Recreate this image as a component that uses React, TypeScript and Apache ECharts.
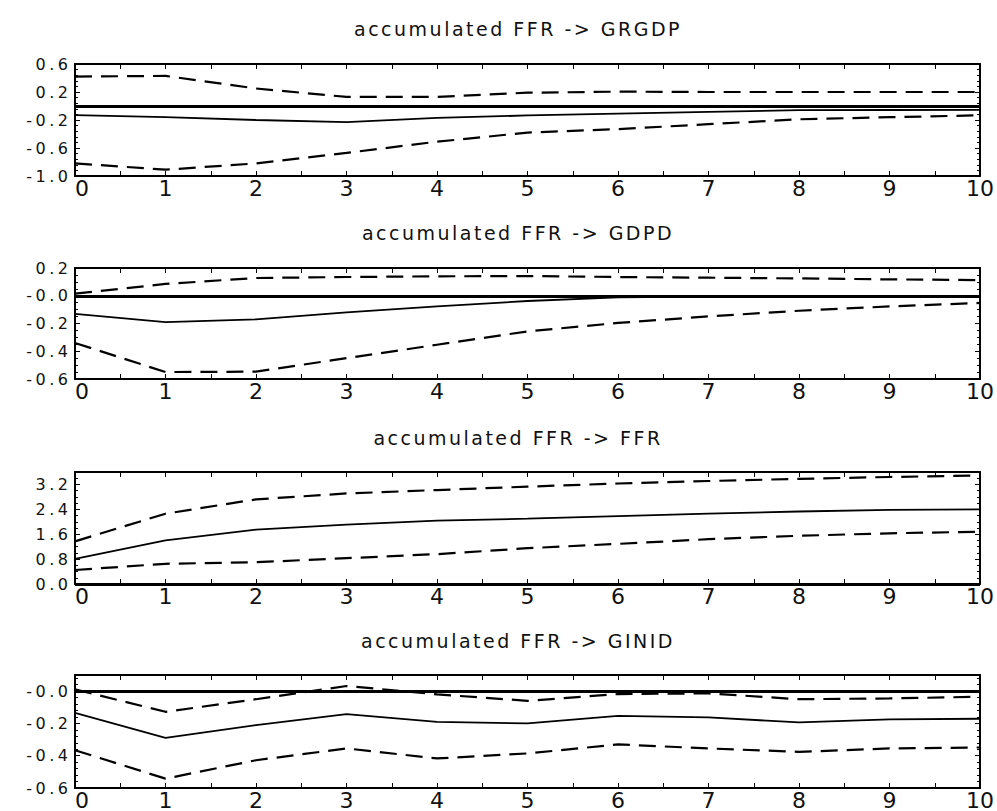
import React, { useEffect, useRef } from "react";
import * as echarts from "echarts";

// Horizons (x axis)
const HORIZONS = [0, 1, 2, 3, 4, 5, 6, 7, 8, 9, 10];

const TITLES = [
  "accumulated FFR -> GRGDP",
  "accumulated FFR -> GDPD",
  "accumulated FFR -> FFR",
  "accumulated FFR -> GINID",
];

// accumulated FFR -> GRGDP
const GRGDP_MID = [-0.13, -0.16, -0.2, -0.23, -0.17, -0.135, -0.11, -0.085, -0.06, -0.057, -0.055];
const GRGDP_UP = [0.42, 0.43, 0.25, 0.13, 0.13, 0.19, 0.205, 0.2, 0.2, 0.2, 0.2];
const GRGDP_LO = [-0.82, -0.91, -0.82, -0.67, -0.51, -0.38, -0.33, -0.26, -0.19, -0.16, -0.133];
const GRGDP_TICKS = [-1.0, -0.6, -0.2, 0.2, 0.6];

// accumulated FFR -> GDPD
const GDPD_MID = [-0.13, -0.19, -0.17, -0.12, -0.077, -0.038, -0.012, -0.006, -0.003, -0.002, -0.001];
const GDPD_UP = [0.015, 0.085, 0.128, 0.135, 0.14, 0.142, 0.135, 0.13, 0.125, 0.118, 0.113];
const GDPD_LO = [-0.34, -0.55, -0.547, -0.45, -0.353, -0.257, -0.196, -0.149, -0.108, -0.077, -0.052];
const GDPD_TICKS = [-0.6, -0.4, -0.2, 0.0, 0.2];

// accumulated FFR -> FFR
const FFR_MID = [0.81, 1.4, 1.75, 1.91, 2.04, 2.1, 2.18, 2.26, 2.33, 2.38, 2.4];
const FFR_UP = [1.37, 2.26, 2.72, 2.91, 3.02, 3.13, 3.23, 3.31, 3.38, 3.44, 3.49];
const FFR_LO = [0.45, 0.65, 0.7, 0.83, 0.96, 1.15, 1.29, 1.44, 1.55, 1.63, 1.68];
const FFR_TICKS = [0.0, 0.8, 1.6, 2.4, 3.2];

// accumulated FFR -> GINID
const GINID_MID = [-0.134, -0.289, -0.21, -0.142, -0.19, -0.2, -0.153, -0.163, -0.194, -0.175, -0.171];
const GINID_UP = [0.011, -0.128, -0.05, 0.032, -0.02, -0.06, -0.018, -0.014, -0.05, -0.045, -0.035];
const GINID_LO = [-0.366, -0.542, -0.428, -0.355, -0.417, -0.386, -0.33, -0.355, -0.376, -0.355, -0.349];
const GINID_TICKS = [-0.6, -0.4, -0.2, 0.0];

const PANELS = [
  { title: TITLES[0], mid: GRGDP_MID, up: GRGDP_UP, lo: GRGDP_LO, ticks: GRGDP_TICKS, max: 0.6, negZero: false, top: 64, height: 112, titleTop: 19, minor: 5 },
  { title: TITLES[1], mid: GDPD_MID, up: GDPD_UP, lo: GDPD_LO, ticks: GDPD_TICKS, max: 0.2, negZero: true, top: 268, height: 111, titleTop: 223, minor: 4 },
  { title: TITLES[2], mid: FFR_MID, up: FFR_UP, lo: FFR_LO, ticks: FFR_TICKS, max: 3.6, negZero: false, top: 472, height: 112, titleTop: 428, minor: 4 },
  { title: TITLES[3], mid: GINID_MID, up: GINID_UP, lo: GINID_LO, ticks: GINID_TICKS, max: 0.1, negZero: true, top: 675, height: 113, titleTop: 631, minor: 5 },
];

const FONT = "DejaVu Sans";
const INK = "#111";

function App() {
  const ref = useRef<HTMLDivElement>(null);

  useEffect(() => {
    if (!ref.current) return;
    const chart = echarts.init(ref.current, null, { renderer: "svg" });

    const grid: any[] = [];
    const xAxis: any[] = [];
    const yAxis: any[] = [];
    const series: any[] = [];
    const title: any[] = [];

    const axisLine = { show: true, onZero: false, lineStyle: { color: "#000", width: 2 } };

    PANELS.forEach((p, i) => {
      grid.push({ left: 75, right: 17, top: p.top, height: p.height });
      title.push({
        text: p.title,
        left: 518,
        textAlign: "center",
        top: p.titleTop,
        padding: 0,
        textStyle: { fontFamily: FONT, fontSize: 19, fontWeight: "normal", color: INK },
      });
      const xBase = {
        gridIndex: i,
        type: "value",
        min: HORIZONS[0],
        max: HORIZONS[HORIZONS.length - 1],
        interval: 1,
        axisLine,
        splitLine: { show: false },
        axisTick: { show: true, inside: true, length: 5, lineStyle: { color: "#000", width: 1 } },
        minorTick: { show: true, splitNumber: 2, length: 5, lineStyle: { color: "#000", width: 1 } },
      };
      xAxis.push({
        ...xBase,
        position: "bottom",
        axisLabel: {
          show: true,
          margin: 1,
          fontFamily: FONT,
          fontSize: 22,
          color: INK,
          alignMinLabel: "left",
        },
      });
      xAxis.push({ ...xBase, position: "top", axisLabel: { show: false } });

      const interval = Math.round((p.ticks[1] - p.ticks[0]) * 10) / 10;
      const fmt = (v: number) => {
        const r = Math.round(v * 10) / 10;
        if (Math.abs(r) < 1e-9) return p.negZero ? "-0.0" : "0.0";
        return r.toFixed(1);
      };
      const yBase = {
        gridIndex: i,
        type: "value",
        min: p.ticks[0],
        max: p.max,
        interval,
        axisLine,
        splitLine: { show: false },
        axisTick: { show: true, inside: true, length: 5, lineStyle: { color: "#000", width: 1 } },
        minorTick: { show: true, splitNumber: p.minor, length: 3, lineStyle: { color: "#000", width: 1 } },
      };
      yAxis.push({
        ...yBase,
        position: "left",
        axisLabel: {
          show: true,
          margin: 7,
          fontFamily: FONT,
          fontSize: 16,
          color: INK,
          formatter: fmt,
          showMaxLabel: p.ticks[p.ticks.length - 1] === p.max,
        },
      });
      yAxis.push({ ...yBase, position: "right", axisLabel: { show: false } });

      const toPts = (arr: number[]) => HORIZONS.map((h, j) => [h, arr[j]]);
      const common = {
        type: "line",
        xAxisIndex: 2 * i,
        yAxisIndex: 2 * i,
        symbol: "none",
        silent: true,
      };
      series.push({
        ...common,
        name: p.title + " response",
        data: toPts(p.mid),
        lineStyle: { color: "#000", width: 1.8, type: "solid" },
        markLine: {
          silent: true,
          symbol: "none",
          label: { show: false },
          lineStyle: { color: "#000", width: 3, type: "solid" },
          data: [{ yAxis: 0 }],
        },
        z: 3,
      });
      series.push({
        ...common,
        name: p.title + " upper",
        data: toPts(p.up),
        lineStyle: { color: "#000", width: 2.2, type: [17, 9] },
        z: 2,
      });
      series.push({
        ...common,
        name: p.title + " lower",
        data: toPts(p.lo),
        lineStyle: { color: "#000", width: 2.2, type: [17, 9] },
        z: 2,
      });
    });

    chart.setOption({
      animation: false,
      backgroundColor: "#fff",
      title,
      grid,
      xAxis,
      yAxis,
      series,
    });

    // Spread the glyphs like the reference's wide stroke font.
    const spaceLabels = () => {
      const root = ref.current;
      if (!root) return;
      root.querySelectorAll("text").forEach((el: any) => {
        if (el.getAttribute("data-spaced")) return;
        const anchor = el.getAttribute("text-anchor");
        const st = el.getAttribute("style") || "";
        if (anchor === "end") {
          const tr = el.getAttribute("transform") || "";
          const m = /translate\(\s*([-\d.e]+)[ ,]+([-\d.e]+)\s*\)/.exec(tr);
          if (!m) return;
          const x = parseFloat(m[1]);
          const y = parseFloat(m[2]);
          el.setAttribute("letter-spacing", "3.5");
          el.style.letterSpacing = "3.5px";
          el.setAttribute("text-anchor", "start");
          let w = 0;
          try {
            w = el.getComputedTextLength();
          } catch (e) {
            w = 0;
          }
          // the trailing spacing after the last glyph is not visible
          el.setAttribute("transform", `translate(${x - w + 3.5} ${y})`);
          el.setAttribute("data-spaced", "1");
        } else if (st.indexOf("19px") >= 0) {
          el.setAttribute("letter-spacing", "2.5");
          el.style.letterSpacing = "2.5px";
          el.setAttribute("data-spaced", "1");
        }
      });
    };
    spaceLabels();
    chart.on("finished", spaceLabels);
    const t = setTimeout(spaceLabels, 30);

    return () => {
      clearTimeout(t);
      chart.dispose();
    };
  }, []);

  return (
    <div
      id="irf-chart"
      ref={ref}
      style={{ position: "absolute", left: 0, top: 0, width: 997, height: 811, background: "#fff" }}
    />
  );
}

export default App;
